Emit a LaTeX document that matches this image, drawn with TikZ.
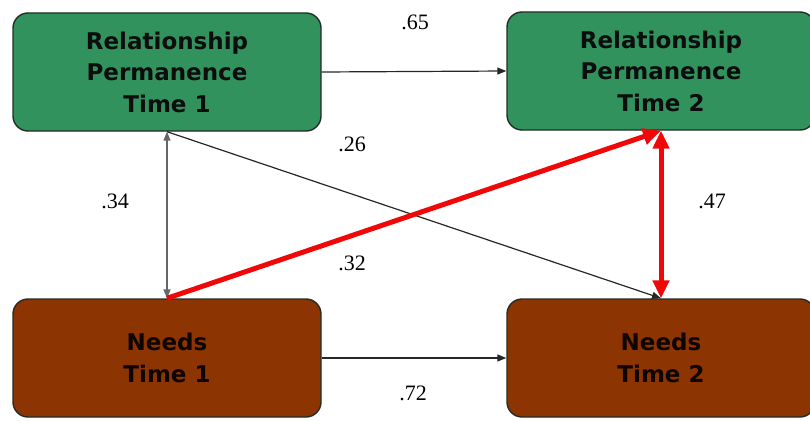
\documentclass[tikz,border=0pt]{standalone}
\usepackage{fontspec}
\setmainfont{Liberation Serif}
\newfontfamily\boxfont{DejaVu Sans}
\usetikzlibrary{arrows.meta}
\definecolor{permgreen}{RGB}{50,146,94}
\definecolor{needsbrown}{RGB}{140,52,2}
\definecolor{boxedge}{RGB}{35,45,38}
\definecolor{linkred}{RGB}{240,8,8}
\begin{document}
\begin{tikzpicture}[x=1pt,y=-1pt,
  construct/.style={draw=boxedge, line width=1.4pt, rounded corners=15pt,
    minimum width=308pt, minimum height=118pt, align=center,
    font=\boxfont\bfseries\fontsize{23}{31.5}\selectfont, inner sep=0pt},
  perm/.style={construct, fill=permgreen, text=black!95},
  needs/.style={construct, fill=needsbrown, text=black!90!needsbrown},
  path/.style={draw=black!85, line width=1.2pt, -{Triangle[length=9pt,width=7pt]}},
  corr/.style={draw=black!60, line width=1.5pt, {Triangle[length=9pt,width=7pt]}-{Triangle[length=9pt,width=7pt]}},
  strong/.style={draw=linkred, line width=5pt, -{Triangle[length=18pt,width=16pt]}},
  strongcorr/.style={draw=linkred, line width=5pt, {Triangle[length=18pt,width=16pt]}-{Triangle[length=18pt,width=16pt]}},
  coef/.style={font=\fontsize{22}{24}\selectfont, inner sep=0pt}]
\useasboundingbox (0,0) rectangle (810,420);
\node[perm]  (r1) at (167,72)  {Relationship\\Permanence\\Time 1};
\node[perm]  (r2) at (661,71)  {Relationship\\Permanence\\Time 2};
\node[needs] (n1) at (167,358) {Needs\\Time 1};
\node[needs] (n2) at (661,358) {Needs\\Time 2};

\draw[path] (r1.east) -- (r2.west);
\draw[path] (n1.east) -- (n2.west);
\draw[corr] (r1.south) -- (n1.north);
\draw[path] (r1.south) -- (n2.north);
\draw[strong] (n1.north) -- (r2.south);
\draw[strongcorr] (r2.south) -- (n2.north);

\node[coef] (c65) at (415,22)  {.65};
\node[coef] (c26) at (352,144) {.26};
\node[coef] (c34) at (115,201) {.34};
\node[coef] (c32) at (352,263) {.32};
\node[coef] (c47) at (712,201) {.47};
\node[coef] (c72) at (413,393) {.72};
\end{tikzpicture}
\end{document}
